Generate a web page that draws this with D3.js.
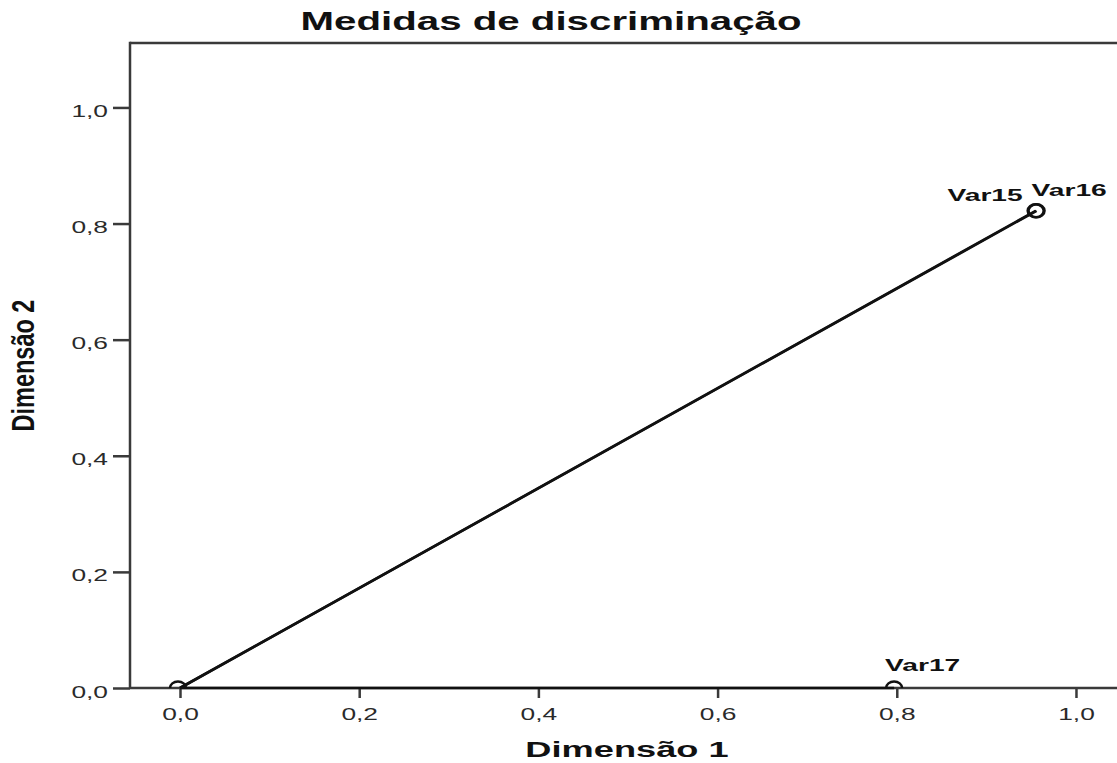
<!DOCTYPE html>
<html>
<head>
<meta charset="utf-8">
<script src="https://cdn.jsdelivr.net/npm/d3@7"></script>
<style>
  html, body { margin: 0; padding: 0; background: #fff; }
  svg { display: block; }
</style>
</head>
<body>
<svg id="chart" width="1117" height="763"></svg>
<script>
// Discrimination measures per variable (dimension 1, dimension 2)
const variables = ["Var15", "Var16", "Var17"];
const dim1 = [0.955, 0.956, 0.797];
const dim2 = [0.822, 0.822, 0.000];
const origin = [0, 0];

const xTicks = [0, 0.2, 0.4, 0.6, 0.8, 1.0];
const yTicks = [0, 0.2, 0.4, 0.6, 0.8, 1.0];

const titleText = "Medidas de discriminação";
const xTitle = "Dimensão 1";
const yTitle = "Dimensão 2";

// label placement relative to each point (px)
const labelOffset = {
  Var15: { dx: -13, dy: -10, anchor: "end" },
  Var16: { dx: -5, dy: -14.5, anchor: "start" },
  Var17: { dx: -9, dy: -17.5, anchor: "start" }
};

const svg = d3.select("#chart");
const FONT = "'Liberation Sans', Arial, sans-serif";

const plot = { left: 130, right: 1124, top: 43, bottom: 688 };

const x = d3.scaleLinear().domain([-0.0558, 1.0536]).range([plot.left, plot.right]);
const y = d3.scaleLinear().domain([0, 1.111]).range([plot.bottom, plot.top]);

const fmt = d => d3.format(".1f")(d).replace(".", ",");
const axisColor = "#3a3a3a";

// clip for point markers
svg.append("defs").append("clipPath").attr("id", "plotClip")
  .append("rect")
  .attr("x", plot.left).attr("y", plot.top)
  .attr("width", plot.right - plot.left).attr("height", plot.bottom - plot.top);

// frame top line
svg.append("line")
  .attr("x1", plot.left).attr("x2", plot.right)
  .attr("y1", plot.top).attr("y2", plot.top)
  .attr("stroke", axisColor).attr("stroke-width", 2.5);

// y axis
const gy = svg.append("g")
  .attr("transform", `translate(${plot.left},0)`)
  .call(d3.axisLeft(y).tickValues(yTicks).tickFormat(fmt).tickSize(17).tickSizeOuter(0));
gy.select(".domain").remove();
gy.selectAll(".tick line").attr("stroke", axisColor).attr("stroke-width", 2.5);
gy.selectAll(".tick text")
  .attr("x", null).attr("dy", null)
  .attr("y", 0)
  .attr("transform", "translate(-22,9) scale(1.55,1)")
  .attr("text-anchor", "end")
  .attr("font-family", FONT).attr("font-size", 17)
  .attr("fill", "#2a2a2a");
svg.append("line")
  .attr("x1", plot.left).attr("x2", plot.left)
  .attr("y1", plot.top - 1.2).attr("y2", plot.bottom)
  .attr("stroke", axisColor).attr("stroke-width", 2.5);

// x axis
const gx = svg.append("g")
  .attr("transform", `translate(0,${plot.bottom})`)
  .call(d3.axisBottom(x).tickValues(xTicks).tickFormat(fmt).tickSize(10).tickSizeOuter(0));
gx.select(".domain").remove();
gx.selectAll(".tick line").attr("stroke", axisColor).attr("stroke-width", 2.5);
gx.selectAll(".tick text")
  .attr("y", 0).attr("dy", null)
  .attr("transform", "translate(0,32) scale(1.55,1)")
  .attr("text-anchor", "middle")
  .attr("font-family", FONT).attr("font-size", 17)
  .attr("fill", "#2a2a2a");
svg.append("line")
  .attr("x1", plot.left).attr("x2", plot.right)
  .attr("y1", plot.bottom).attr("y2", plot.bottom)
  .attr("stroke", axisColor).attr("stroke-width", 2.5);

// vectors from the origin to each variable
const pts = variables.map((v, i) => ({ name: v, d1: dim1[i], d2: dim2[i] }));
svg.append("g").selectAll("line.vec")
  .data(pts)
  .join("line")
  .attr("class", "vec")
  .attr("x1", x(origin[0])).attr("y1", y(origin[1]))
  .attr("x2", d => x(d.d1)).attr("y2", d => y(d.d2))
  .attr("stroke", "#111").attr("stroke-width", 2.6);

// point markers (clipped to the data area)
const markers = svg.append("g").attr("clip-path", "url(#plotClip)");
markers.append("ellipse")
  .attr("cx", x(origin[0]) - 2).attr("cy", y(origin[1]))
  .attr("rx", 8).attr("ry", 6.5)
  .attr("fill", "none").attr("stroke", "#111").attr("stroke-width", 2.5);
markers.selectAll("ellipse.pt")
  .data(pts)
  .join("ellipse")
  .attr("class", "pt")
  .attr("cx", d => x(d.d1)).attr("cy", d => y(d.d2))
  .attr("rx", 8).attr("ry", 6.5)
  .attr("fill", "none").attr("stroke", "#111").attr("stroke-width", 2.5);

// point labels
svg.append("g").selectAll("text.lbl")
  .data(pts)
  .join("text")
  .attr("class", "lbl")
  .attr("transform", d => {
    const o = labelOffset[d.name];
    return `translate(${x(d.d1) + o.dx},${y(d.d2) + o.dy}) scale(1.76,1)`;
  })
  .attr("text-anchor", d => labelOffset[d.name].anchor)
  .attr("font-family", FONT).attr("font-weight", "bold").attr("font-size", 16)
  .attr("fill", "#111")
  .text(d => d.name);

// title
svg.append("text")
  .attr("transform", "translate(551,30) scale(1.61,1)")
  .attr("text-anchor", "middle")
  .attr("font-family", FONT).attr("font-weight", "bold").attr("font-size", 25)
  .attr("fill", "#111")
  .text(titleText);

// axis titles
svg.append("text")
  .attr("transform", `translate(${(plot.left + plot.right) / 2},757) scale(1.61,1)`)
  .attr("text-anchor", "middle")
  .attr("font-family", FONT).attr("font-weight", "bold").attr("font-size", 22.5)
  .attr("fill", "#111")
  .text(xTitle);

svg.append("text")
  .attr("transform", `translate(33.5,${(plot.top + plot.bottom) / 2}) scale(1.31,1) rotate(-90)`)
  .attr("text-anchor", "middle")
  .attr("font-family", FONT).attr("font-weight", "bold").attr("font-size", 23.5)
  .attr("fill", "#111")
  .text(yTitle);
</script>
</body>
</html>
